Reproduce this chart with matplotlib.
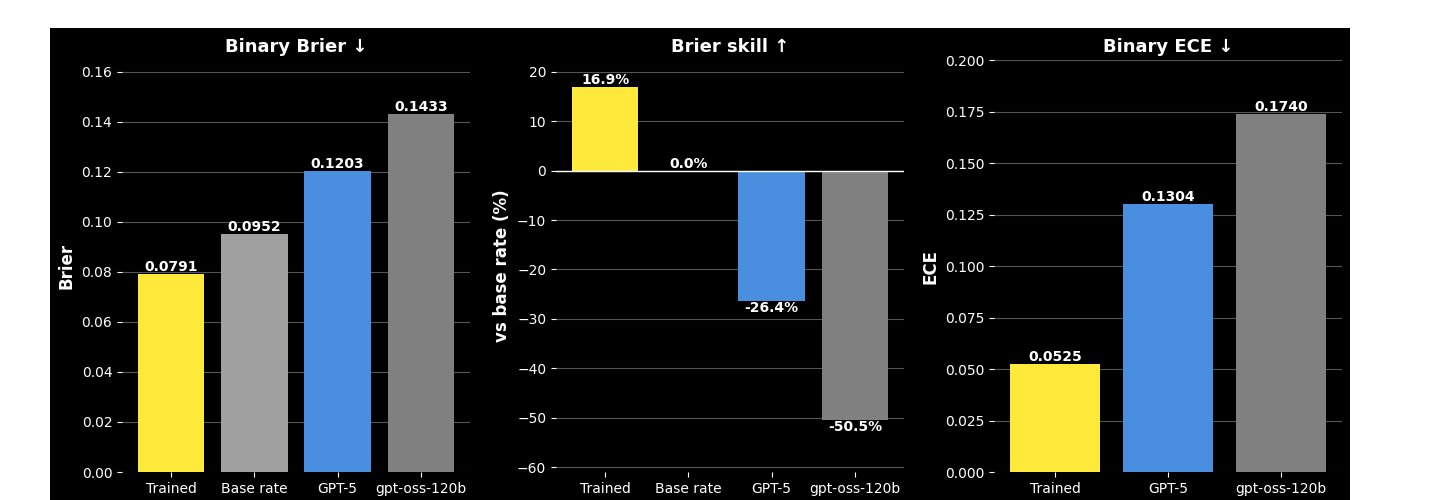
import matplotlib.pyplot as plt
from matplotlib.patches import Rectangle

models4 = ["Trained", "Base rate", "GPT-5", "gpt-oss-120b"]
colors4 = ["#FFE93B", "#A0A0A0", "#4A8EDF", "#808080"]
brier = [0.0791, 0.0952, 0.1203, 0.1433]
skill = [16.9, 0.0, -26.4, -50.5]
models3 = ["Trained", "GPT-5", "gpt-oss-120b"]
colors3 = ["#FFE93B", "#4A8EDF", "#808080"]
ece = [0.0525, 0.1304, 0.1740]

fig = plt.figure(figsize=(14.5, 5), dpi=100, facecolor="white")
fig.patches.append(Rectangle((50/1450, 0), 1300/1450, 472/500, transform=fig.transFigure,
                             facecolor="black", zorder=-10))

def style(ax, title, ylabel):
    ax.set_facecolor("black")
    for s in ax.spines.values():
        s.set_visible(False)
    ax.tick_params(colors="white", labelsize=10)
    ax.grid(axis="y", color="#555555", linewidth=0.8)
    ax.set_axisbelow(True)
    ax.set_title(title, color="white", fontsize=13, fontweight="bold")
    ax.set_ylabel(ylabel, color="white", fontsize=12, fontweight="bold")

w = 0.24
ax1 = fig.add_axes([122/1450, 28/500, w, 412/500])
ax2 = fig.add_axes([556/1450, 28/500, w, 412/500])
ax3 = fig.add_axes([994/1450, 28/500, w, 412/500])

ax1.bar(models4, brier, color=colors4, width=0.8)
ax1.set_ylim(0, max(brier) * 1.15)
style(ax1, "Binary Brier ↓", "Brier")
for i, v in enumerate(brier):
    ax1.text(i, v, f"{v:.4f}", ha="center", va="bottom", color="white", fontsize=10, fontweight="bold")

ax2.bar(models4, skill, color=colors4, width=0.8)
ax2.set_ylim(-61, 22.4)
ax2.axhline(0, color="white", linewidth=1)
style(ax2, "Brier skill ↑", "vs base rate (%)")
for i, v in enumerate(skill):
    ax2.text(i, v, f"{v:.1f}%", ha="center", va="bottom" if v >= 0 else "top",
             color="white", fontsize=10, fontweight="bold")

ax3.bar(models3, ece, color=colors3, width=0.8)
ax3.set_ylim(0, max(ece) * 1.15)
style(ax3, "Binary ECE ↓", "ECE")
for i, v in enumerate(ece):
    ax3.text(i, v, f"{v:.4f}", ha="center", va="bottom", color="white", fontsize=10, fontweight="bold")

fig.savefig("out.png", dpi=100, facecolor="white")
